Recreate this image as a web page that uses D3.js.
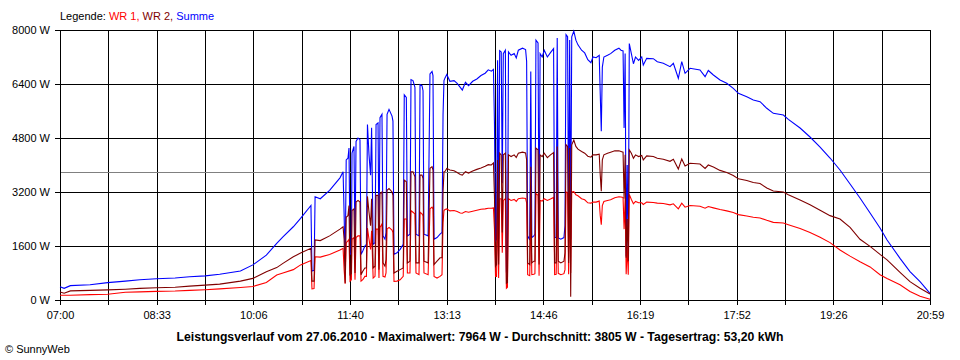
<!DOCTYPE html>
<html>
<head>
<meta charset="utf-8">
<script src="https://cdn.jsdelivr.net/npm/d3@7"></script>
<style>
  html, body { margin: 0; padding: 0; background: #fff; }
  svg { display: block; font-family: "Liberation Sans", Arial, sans-serif; }
</style>
</head>
<body>
<svg id="chart" width="960" height="360"></svg>
<script>
// ---- data (minutes after 07:00, power in W) ----
const times = [0,4,10,29,46,63,77,93,111,125,140,154,174,186,199,209,215,225,232,242,243,245,246,251,260,270,273,
  274,275,276,277.7,278.7,279.7,281,281.6,283.5,284.5,285.5,287.4,289.3,290.3,292,294,295.5,296.5,298,299.5,300.5,302,303.8,304.8,306.7,307.6,308.6,310.5,311.5,313.4,314.4,315.4,317.3,320.2,321.1,322.1,325,328,331,332,334,335,337.5,338.5,340.4,342.3,343.3,346.2,347.2,349.1,350.1,351,355,356.8,358.8,359.7,360.7,363.6,366.5,368.4,369.4,370.3,
  371.3,373,376,380,383,386,388,391,394,398,402,406,410,413,416,418,
  419,420,421,422,423,424,425.5,426.5,427.5,429.5,430.5,431.5,432.5,435,438,440,442,446,449,450,451,453,454,455,457,458,459,461,462,463,465,467,470,473,476,477,478.5,479.5,480.5,483,486,487,488,489.5,490.5,491.5,492.5,493.5,495.5,497.5,
  499.5,503,506,509,512,514,517,520,521,522,523,524.5,528,531,535,539,541,543,544,545,546,547,548,549,551,553,555,558,561,562.5,565.8,572.2,576,581.8,588.3,591.5,596.3,599.6,602.8,607.6,617.2,622.1,625.2,630.1,636.5,643,649.3,654.2,662.3,668.6,675.1,681.6,687.9,697.6,702.4,713.7,723.3,733,742.6,752.2,761.9,771.5,781.2,790.8,797.6,810.1,819.7,829.4,839];

const wr1 = [140,140,140,160,170,230,240,255,265,285,305,330,370,400,520,740,800,900,1040,1170,330,340,1280,1270,1350,1480,1530,
  900,480,1700,1750,1800,560,600,1800,1850,600,1850,1900,1900,560,600,700,700,2130,1800,1500,2050,650,700,2100,2100,650,2150,2250,700,680,800,2100,2150,2070,2000,550,560,600,700,2400,2400,800,800,2650,2600,2550,800,750,2600,2550,2500,800,750,2700,2750,2700,700,650,700,750,2300,2650,
  2680,2700,2640,2650,2620,2580,2570,2620,2600,2630,2660,2690,2700,2720,2720,2730,
  2100,700,700,2900,650,3000,3000,1400,2950,3000,350,380,3000,2950,2980,2920,3000,3020,3010,2880,750,720,2750,750,760,780,3150,3100,720,2950,2930,3000,2950,2990,3040,750,760,3150,790,750,780,900,3200,3180,760,3150,800,3200,3210,3120,
  3090,3000,2970,2880,2870,2900,2900,2930,2500,2230,2800,2920,2950,2970,3030,3060,3050,3040,2100,3000,760,1600,750,3130,2980,2850,2920,2880,2880,2830,2900,2890,2870,2860,2820,2850,2700,2870,2750,2800,2780,2720,2770,2730,2680,2640,2590,2530,2490,2450,2430,2360,2300,2280,2230,2120,2000,1860,1700,1480,1300,1136,980,750,640,450,250,110,20];

const wr2 = [240,200,270,285,300,320,345,365,380,410,440,470,560,640,840,960,1086,1280,1390,1530,560,560,1780,1760,1900,2100,2170,
  1800,500,2450,2500,2800,750,780,2650,2700,800,2900,2950,2900,750,850,950,950,3070,2600,2200,3000,950,1000,3100,3100,900,3150,3200,1100,1000,1200,3250,3300,3200,3100,800,850,900,950,3550,3500,1100,1150,3800,3800,3650,1100,1100,3700,3700,3600,1150,1100,3900,3950,3850,1050,1150,1250,1250,3200,3800,
  3810,3900,3850,3830,3780,3720,3700,3800,3760,3820,3870,3910,3960,4010,4000,4060,
  3050,1000,1050,4150,1050,4350,4300,2000,4300,4350,500,520,4300,4250,4300,4220,4350,4380,4360,4150,1100,1050,3950,1100,1150,1150,4500,4450,1050,4300,4250,4350,4220,4300,4370,1100,1100,4550,1150,1100,1150,1400,4600,4550,1100,4500,100,4600,4740,4550,
  4470,4400,4350,4260,4230,4300,4300,4320,3700,3220,4150,4300,4350,4380,4420,4420,4400,4380,3000,4300,1250,2400,1150,4450,4350,4200,4300,4250,4280,4150,4270,4250,4200,4170,4110,4170,3880,4180,3970,4050,4030,3900,4000,3940,3840,3780,3690,3590,3540,3480,3450,3320,3230,3200,3120,2960,2820,2660,2500,2400,2150,1800,1590,1350,1190,820,543,350,178];

const summe = [395,345,425,450,515,560,600,630,650,690,715,765,860,1040,1330,1680,1870,2170,2420,2800,860,880,3060,3000,3250,3620,3800,
  2530,1000,4150,4200,4500,1350,1400,4350,4550,1500,4700,4800,4750,1350,1450,1600,1650,5200,4300,3700,5100,1650,1700,5200,5250,1650,5400,5500,1900,1800,2000,5500,5650,5450,5300,1350,1400,1500,1650,6080,6000,1900,1950,6530,6500,6300,1950,1900,6380,6350,6200,1950,1900,6700,6770,6650,1800,1850,1950,2000,5500,6500,
  6580,6680,6480,6500,6420,6300,6220,6450,6350,6480,6550,6650,6720,6820,6780,6830,
  5200,1750,1800,7100,1800,7390,7350,3460,7300,7400,860,900,7350,7250,7300,7170,7400,7460,7420,7070,1900,1780,6770,1850,1900,1950,7700,7620,1800,7300,7200,7400,7200,7330,7450,1850,1850,7760,1840,1800,1850,2200,7860,7800,1800,7700,1800,7800,7964,7700,
  7560,7400,7320,7120,7030,7200,7180,7250,6100,5000,6900,7200,7250,7300,7400,7460,7400,7380,5100,7300,1300,4000,1250,7600,7300,7000,7200,7100,7200,6960,7160,7150,7060,7013,6913,7013,6569,7061,6717,6865,6815,6617,6800,6667,6519,6420,6272,6124,6024,5926,5876,5680,5531,5481,5353,5096,4830,4533,4207,3852,3437,3022,2578,2133,1778,1235,840,543,198];

const yTicks = [0, 1600, 3200, 4800, 6400, 8000];
const xTickLabels = ["07:00","08:33","10:06","11:40","13:13","14:46","16:19","17:52","19:26","20:59"];
const dayMinutes = 839;      // 07:00 .. 20:59
const average = 3805;        // Durchschnitt
const legendItems = [
  {text: "Legende: ", color: "#000000"},
  {text: "WR 1, ", color: "#ff0000"},
  {text: "WR 2, ", color: "#800000"},
  {text: "Summe", color: "#0000ff"}
];
const titleText = "Leistungsverlauf vom 27.06.2010 - Maximalwert: 7964 W - Durchschnitt: 3805 W - Tagesertrag: 53,20 kWh";

// ---- chart ----
const svg = d3.select("#chart");
const L = 60, R = 930, T = 30, B = 300;
const x = d3.scaleLinear().domain([0, dayMinutes]).range([L, R]);
const y = d3.scaleLinear().domain([0, 8000]).range([B, T]);

svg.append("rect").attr("width", 960).attr("height", 360).attr("fill", "#fff");

// x axis: 18 intervals, labels every second one
const xTickVals = d3.range(19).map(i => i * dayMinutes / 18);
const xAxis = d3.axisBottom(x)
  .tickValues(xTickVals)
  .tickSize(-(B - T) - 5)
  .tickPadding(6)
  .tickFormat((d, i) => i % 2 === 0 ? xTickLabels[i / 2] : "");
const gx = svg.append("g").attr("transform", `translate(0,${B + 5})`).call(xAxis);
gx.select(".domain").remove();
gx.selectAll("line").attr("stroke", "#000").attr("shape-rendering", "crispEdges");
gx.selectAll("text").attr("fill", "#000").style("font-size", "11px");

const yAxis = d3.axisLeft(y)
  .tickValues(yTicks)
  .tickSize(-(R - L) - 5)
  .tickPadding(5)
  .tickFormat(d => d + " W");
const gy = svg.append("g").attr("transform", `translate(${L - 5},0)`).call(yAxis);
gy.select(".domain").remove();
gy.selectAll("line").attr("stroke", "#000").attr("shape-rendering", "crispEdges");
gy.selectAll("text").attr("fill", "#000").style("font-size", "11px");

// average line
svg.append("line")
  .attr("x1", L).attr("x2", R)
  .attr("y1", Math.round(y(average)) + 0.5).attr("y2", Math.round(y(average)) + 0.5)
  .attr("stroke", "#808080").attr("shape-rendering", "crispEdges");

// frame
svg.append("rect").attr("x", L + 0.5).attr("y", T + 0.5).attr("width", R - L).attr("height", B - T)
  .attr("fill", "none").attr("stroke", "#000").attr("shape-rendering", "crispEdges");

// series
const series = [
  {name: "Summe", values: summe, color: "#0000ff"},
  {name: "WR 1", values: wr1, color: "#ff0000"},
  {name: "WR 2", values: wr2, color: "#800000"}
];
const line = d3.line().x(d => x(d[0])).y(d => y(d[1]));
series.forEach(s => {
  svg.append("path")
    .datum(times.map((t, i) => [t, s.values[i]]))
    .attr("d", line)
    .attr("fill", "none")
    .attr("stroke", s.color)
    .attr("stroke-width", 1.1);
});

// legend
const leg = svg.append("text").attr("x", L).attr("y", 20).style("font-size", "11px");
legendItems.forEach(it => leg.append("tspan").attr("fill", it.color).text(it.text));

// title
svg.append("text")
  .attr("x", 480).attr("y", 341)
  .attr("text-anchor", "middle")
  .attr("textLength", 607).attr("lengthAdjust", "spacingAndGlyphs")
  .style("font-size", "12px").style("font-weight", "bold")
  .attr("fill", "#000")
  .text(titleText);

// copyright
svg.append("text").attr("x", 5).attr("y", 353).style("font-size", "11px").attr("fill", "#000").text("© SunnyWeb");
</script>
</body>
</html>
